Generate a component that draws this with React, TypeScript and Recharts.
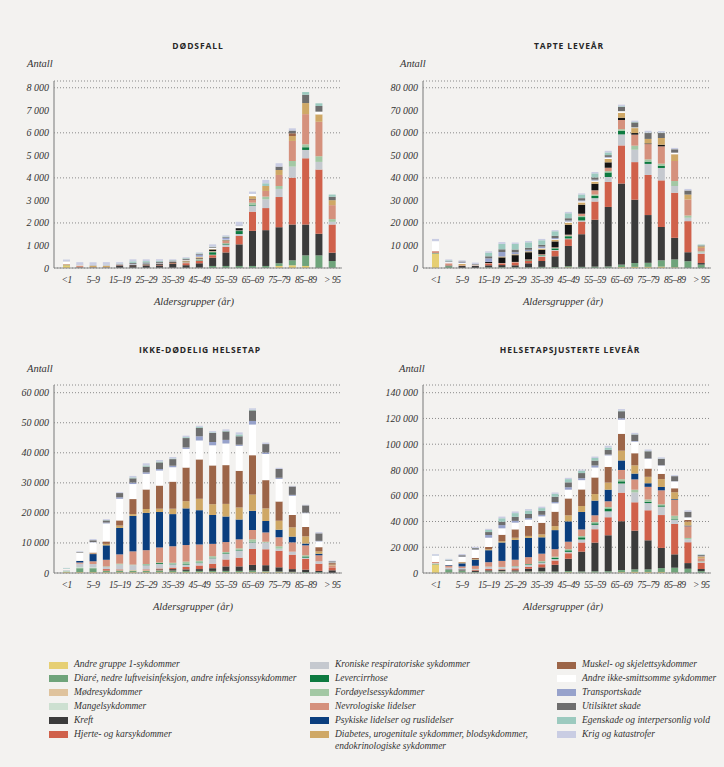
import { Bar, BarChart, CartesianGrid, XAxis, YAxis } from "recharts";

// Age groups on the x axis (every other one gets a label).
const AGE_GROUPS = [
  "<1", "1–4", "5–9", "10–14", "15–19", "20–24", "25–29", "30–34", "35–39", "40–44",
  "45–49", "50–54", "55–59", "60–64", "65–69", "70–74", "75–79", "80–84", "85–89", "90–94", "> 95",
];

const Z = [0, 0, 0, 0, 0, 0, 0, 0, 0, 0, 0, 0, 0, 0, 0, 0, 0, 0, 0, 0, 0];

// ---- Dødsfall (antall) ----
const dG1 = [120, 0, 0, 0, 0, 0, 0, 0, 0, 0, 0, 0, 0, 0, 0, 0, 90, 120, 90, 0, 0];
const dDiare = [10, 10, 5, 5, 5, 5, 5, 5, 5, 5, 10, 90, 90, 90, 90, 90, 120, 220, 470, 560, 310];
const dKreft = [5, 20, 20, 20, 100, 80, 90, 110, 180, 120, 200, 370, 600, 960, 1560, 1590, 1600, 1590, 1370, 960, 370];
const dHjerte = [10, 10, 0, 0, 10, 10, 15, 20, 30, 90, 110, 110, 250, 370, 850, 980, 1340, 2080, 2940, 2850, 1250];
const dKronresp = [5, 5, 0, 0, 0, 0, 0, 0, 0, 10, 20, 20, 100, 90, 270, 390, 360, 490, 370, 340, 120];
const dLever = [0, 0, 0, 0, 0, 0, 0, 5, 5, 10, 20, 110, 40, 130, 30, 0, 0, 0, 120, 0, 0];
const dFordoy = [0, 0, 0, 0, 0, 0, 0, 0, 0, 10, 30, 30, 20, 30, 100, 120, 130, 250, 130, 250, 120];
const dNevro = [10, 50, 10, 10, 10, 10, 10, 10, 10, 20, 30, 20, 100, 0, 150, 250, 490, 890, 1340, 1530, 620];
const dPsyk = [0, 0, 0, 0, 10, 30, 40, 40, 30, 20, 20, 70, 20, 100, 20, 0, 0, 0, 0, 0, 0];
const dDiab = [20, 10, 60, 60, 5, 10, 10, 10, 10, 40, 40, 20, 20, 0, 120, 220, 220, 220, 490, 330, 220];
const dMuskel = [0, 0, 0, 0, 0, 0, 0, 0, 0, 0, 0, 0, 0, 0, 0, 0, 0, 120, 0, 0, 0];
const dAndre = [110, 20, 20, 20, 10, 10, 10, 10, 10, 20, 20, 60, 20, 90, 100, 0, 0, 0, 0, 120, 0];
const dTransport = [0, 5, 5, 10, 15, 30, 25, 20, 15, 20, 90, 0, 80, 0, 0, 0, 0, 0, 0, 0, 0];
const dUtils = [5, 10, 15, 15, 15, 40, 40, 50, 30, 40, 30, 30, 30, 20, 0, 0, 150, 120, 370, 250, 150];
const dEgensk = [0, 0, 0, 10, 20, 70, 60, 40, 20, 30, 30, 20, 30, 0, 0, 120, 0, 0, 120, 120, 100];
const dKrig = [80, 120, 120, 110, 60, 90, 80, 70, 40, 40, 40, 100, 50, 170, 100, 150, 150, 100, 0, 0, 0];

// ---- Tapte leveår ----
const yG1 = [6300, 0, 0, 0, 0, 0, 0, 0, 0, 0, 300, 0, 0, 0, 400, 500, 500, 600, 300, 0, 0];
const yDiare = [300, 800, 0, 0, 300, 400, 300, 300, 500, 400, 500, 500, 600, 700, 1100, 1700, 1800, 2800, 3500, 3000, 1500];
const yKreft = [0, 300, 900, 1000, 900, 900, 900, 1800, 2600, 4800, 9000, 14500, 20800, 26400, 36000, 28100, 21200, 14800, 9600, 4000, 700];
const yHjerte = [0, 0, 0, 0, 700, 600, 1200, 1200, 1900, 2500, 3000, 5600, 8100, 11100, 16900, 16700, 17800, 20700, 20000, 13800, 4100];
const yKronresp = [0, 0, 0, 0, 0, 0, 0, 0, 300, 300, 300, 500, 1500, 2200, 4900, 5500, 4900, 5500, 3000, 1500, 600];
const yLever = [0, 0, 0, 0, 0, 0, 0, 200, 300, 700, 1000, 1500, 1000, 2000, 1500, 0, 1000, 1000, 0, 0, 0];
const yFordoy = [0, 0, 0, 0, 0, 0, 0, 0, 200, 200, 300, 500, 600, 600, 800, 1800, 1000, 900, 2200, 1000, 500];
const yNevro = [900, 1000, 300, 200, 300, 300, 300, 300, 300, 300, 400, 1000, 1900, 1500, 4100, 4900, 6800, 7700, 8900, 7100, 1500];
const yPsyk = [0, 0, 0, 0, 500, 2500, 3000, 3200, 2000, 2600, 4400, 4000, 2900, 2400, 1000, 700, 300, 700, 0, 0, 0];
const yDiab = [0, 0, 600, 0, 0, 400, 400, 400, 500, 700, 900, 1000, 900, 1500, 2200, 2200, 2000, 3000, 3000, 2200, 700];
const yAndre = [4400, 500, 400, 300, 0, 0, 0, 0, 200, 300, 500, 500, 500, 600, 700, 300, 0, 0, 700, 0, 0];
const yTransport = [0, 200, 300, 0, 1600, 2000, 900, 700, 700, 500, 500, 400, 400, 300, 0, 0, 0, 0, 0, 0, 0];
const yUtils = [0, 200, 400, 300, 900, 1200, 1200, 900, 800, 1000, 1000, 1000, 1000, 800, 1900, 2200, 2600, 2200, 1500, 1800, 400];
const yEgensk = [0, 400, 0, 0, 1600, 2400, 2500, 2400, 2000, 2000, 2200, 1600, 1800, 1200, 300, 200, 200, 200, 0, 0, 400];
const yKrig = [1000, 400, 500, 600, 600, 800, 600, 600, 600, 500, 600, 500, 600, 700, 700, 600, 800, 700, 600, 700, 0];

// ---- Ikke-dødelig helsetap ----
const iG1 = [300, 300, 300, 300, 300, 300, 300, 300, 300, 300, 300, 300, 300, 300, 300, 400, 300, 200, 0, 0, 0];
const iDiare = [200, 1300, 1300, 500, 500, 500, 400, 400, 400, 400, 400, 400, 400, 400, 500, 200, 200, 200, 300, 300, 0];
const iModre = [0, 0, 0, 0, 100, 200, 200, 200, 100, 0, 0, 0, 0, 0, 0, 0, 0, 0, 0, 0, 0];
const iMangel = [300, 400, 300, 0, 0, 0, 0, 0, 0, 0, 0, 0, 0, 0, 0, 0, 0, 0, 0, 0, 0];
const iKreft = [0, 0, 0, 0, 0, 0, 0, 300, 500, 500, 600, 900, 1500, 1500, 1900, 2000, 1400, 900, 800, 400, 900];
const iHjerte = [0, 0, 0, 500, 300, 0, 300, 300, 500, 800, 1200, 1500, 2300, 2900, 5300, 5300, 5500, 4800, 3600, 2400, 800];
const iKronresp = [200, 1100, 1100, 700, 1600, 1600, 1400, 1500, 1100, 800, 800, 1800, 1900, 2400, 2200, 2200, 700, 1000, 400, 800, 0];
const iLever = [0, 0, 0, 0, 0, 0, 200, 300, 200, 200, 200, 200, 200, 200, 200, 0, 0, 0, 400, 0, 0];
const iFordoy = [0, 0, 0, 200, 300, 200, 200, 200, 300, 800, 600, 500, 400, 500, 800, 300, 800, 0, 400, 0, 0];
const iNevro = [100, 400, 900, 2200, 3100, 4400, 4600, 5000, 5500, 5500, 5400, 4100, 3300, 3000, 3100, 3100, 3000, 3100, 3300, 2000, 800];
const iPsyk = [0, 500, 2400, 4800, 8800, 11800, 12400, 11800, 10700, 12200, 11400, 9600, 8500, 6600, 6400, 3800, 2500, 1900, 600, 500, 0];
const iDiab = [0, 100, 200, 500, 800, 600, 1300, 1100, 1800, 2400, 3800, 3600, 4200, 4000, 5400, 4200, 3000, 3100, 2400, 800, 300];
const iMuskel = [0, 0, 300, 800, 1700, 5000, 6500, 7700, 9000, 11200, 13100, 12900, 12900, 12200, 13100, 9400, 6400, 4100, 3100, 1400, 500];
const iAndre = [300, 2700, 3400, 6000, 7200, 5000, 5200, 5000, 4800, 6200, 6300, 6700, 7200, 8300, 10200, 8700, 7500, 6400, 4600, 1900, 200];
const iTransport = [0, 0, 100, 300, 500, 500, 500, 500, 500, 500, 1400, 1100, 1200, 400, 1200, 500, 400, 300, 200, 200, 0];
const iUtils = [0, 200, 600, 700, 1400, 1400, 1900, 2200, 2200, 3100, 2800, 3000, 2800, 2800, 3500, 2800, 2900, 2800, 2400, 2500, 400];
const iEgensk = [200, 0, 0, 100, 0, 300, 400, 300, 200, 300, 300, 200, 200, 600, 200, 0, 0, 0, 0, 0, 0];
const iKrig = [100, 200, 400, 300, 300, 500, 700, 500, 500, 500, 400, 400, 500, 700, 500, 500, 400, 200, 200, 400, 200];

// ---- Helsetapsjusterte leveår ----
const hG1 = [6600, 300, 300, 300, 300, 300, 300, 300, 300, 300, 600, 300, 300, 300, 700, 900, 800, 800, 300, 0, 0];
const hDiare = [500, 2100, 1300, 500, 800, 900, 700, 700, 900, 800, 900, 900, 1000, 1100, 1600, 1900, 2000, 3000, 3800, 3300, 1500];
const hModre = [0, 0, 0, 0, 100, 200, 200, 200, 100, 0, 0, 0, 0, 0, 0, 0, 0, 0, 0, 0, 0];
const hMangel = [300, 400, 300, 0, 0, 0, 0, 0, 0, 0, 0, 0, 0, 0, 0, 0, 0, 0, 0, 0, 0];
const hKreft = [0, 300, 900, 1000, 900, 900, 900, 2100, 3100, 5300, 9600, 15400, 22300, 27900, 37900, 30100, 22600, 15700, 10400, 4400, 1600];
const hHjerte = [0, 0, 0, 500, 1000, 600, 1500, 1500, 2400, 3300, 4200, 7100, 10400, 14000, 22200, 22000, 23300, 25500, 23600, 16200, 4900];
const hKronresp = [200, 1100, 1100, 700, 1600, 1600, 1400, 1500, 1400, 1100, 1100, 2300, 3400, 4600, 7100, 7700, 5600, 6500, 3400, 2300, 600];
const hLever = [0, 0, 0, 0, 0, 0, 200, 500, 500, 900, 1200, 1700, 1200, 2200, 1700, 0, 1000, 1000, 400, 0, 0];
const hFordoy = [0, 0, 0, 200, 300, 200, 200, 200, 500, 1000, 900, 1000, 1000, 1100, 1600, 2100, 1800, 900, 2600, 1000, 500];
const hNevro = [1000, 1400, 1200, 2400, 3400, 4700, 4900, 5300, 5800, 5800, 5800, 5100, 5200, 4500, 7200, 8000, 9800, 10800, 12200, 9100, 2300];
const hPsyk = [0, 500, 2400, 4800, 9300, 14300, 15400, 15000, 12700, 14800, 15800, 13600, 11400, 9000, 7400, 4500, 2800, 2600, 600, 500, 0];
const hDiab = [0, 100, 800, 500, 800, 1000, 1700, 1500, 2300, 3100, 4700, 4600, 5100, 5500, 7600, 6400, 5000, 6100, 5400, 3000, 1000];
const hMuskel = [0, 0, 300, 800, 1700, 5000, 6500, 7700, 9000, 11200, 13100, 12900, 12900, 12200, 13100, 9400, 6400, 4100, 3100, 1400, 500];
const hAndre = [4700, 3200, 3800, 6300, 7200, 5000, 5200, 5000, 5000, 6500, 6800, 7200, 7700, 8900, 10900, 9000, 7500, 6400, 5300, 1900, 200];
const hTransport = [0, 200, 400, 300, 2100, 2500, 1400, 1200, 1200, 1000, 1900, 1500, 1600, 700, 1200, 500, 400, 300, 200, 200, 0];
const hUtils = [0, 400, 1000, 1000, 2300, 2600, 3100, 3100, 3000, 4100, 3800, 4000, 3800, 3600, 5400, 5000, 5500, 5000, 3900, 4300, 800];
const hEgensk = [200, 400, 0, 100, 1600, 2700, 2900, 2700, 2200, 2300, 2500, 1800, 2000, 1800, 500, 200, 200, 200, 0, 0, 400];
const hKrig = [1100, 600, 900, 900, 900, 1300, 1300, 1100, 1100, 1000, 1000, 900, 1100, 1400, 1200, 1100, 1200, 900, 800, 1100, 200];

// Stack order bottom -> top, same as the legend read column by column.
const SERIES = [
  { key: "g1", label: "Andre gruppe 1-sykdommer", color: "#e6cf73" },
  { key: "diare", label: "Diaré, nedre luftveisinfeksjon, andre infeksjonssykdommer", color: "#6fa47b" },
  { key: "modre", label: "Mødresykdommer", color: "#dfc39d" },
  { key: "mangel", label: "Mangelsykdommer", color: "#cde0d1" },
  { key: "kreft", label: "Kreft", color: "#3b3b3b" },
  { key: "hjerte", label: "Hjerte- og karsykdommer", color: "#d0614b" },
  { key: "kronresp", label: "Kroniske respiratoriske sykdommer", color: "#c5c9cf" },
  { key: "lever", label: "Levercirrhose", color: "#0d7a40" },
  { key: "fordoy", label: "Fordøyelsessykdommer", color: "#a3c8a4" },
  { key: "nevro", label: "Nevrologiske lidelser", color: "#d5917d" },
  { key: "psyk", label: "Psykiske lidelser og ruslidelser", color: "#0a3e7e" },
  { key: "diab", label: "Diabetes, urogenitale sykdommer, blodsykdommer, endokrinologiske sykdommer", color: "#cfa866" },
  { key: "muskel", label: "Muskel- og skjelettsykdommer", color: "#9c6548" },
  { key: "andre", label: "Andre ikke-smittsomme sykdommer", color: "#ffffff" },
  { key: "transport", label: "Transportskade", color: "#97a2cb" },
  { key: "utils", label: "Utilsiktet skade", color: "#6e6e6e" },
  { key: "egensk", label: "Egenskade og interpersonlig vold", color: "#9ccabf" },
  { key: "krig", label: "Krig og katastrofer", color: "#c9cde3" },
];

type Cols = Record<string, number[]>;

function buildRows(cols: Cols) {
  return AGE_GROUPS.map((age, i) => {
    const row: Record<string, string | number> = { age };
    SERIES.forEach((s) => {
      row[s.key] = (cols[s.key] ?? Z)[i];
    });
    return row;
  });
}

const deathRows = buildRows({
  g1: dG1, diare: dDiare, kreft: dKreft, hjerte: dHjerte, kronresp: dKronresp, lever: dLever,
  fordoy: dFordoy, nevro: dNevro, psyk: dPsyk, diab: dDiab, muskel: dMuskel, andre: dAndre,
  transport: dTransport, utils: dUtils, egensk: dEgensk, krig: dKrig,
});
const yllRows = buildRows({
  g1: yG1, diare: yDiare, kreft: yKreft, hjerte: yHjerte, kronresp: yKronresp, lever: yLever,
  fordoy: yFordoy, nevro: yNevro, psyk: yPsyk, diab: yDiab, andre: yAndre,
  transport: yTransport, utils: yUtils, egensk: yEgensk, krig: yKrig,
});
const yldRows = buildRows({
  g1: iG1, diare: iDiare, modre: iModre, mangel: iMangel, kreft: iKreft, hjerte: iHjerte,
  kronresp: iKronresp, lever: iLever, fordoy: iFordoy, nevro: iNevro, psyk: iPsyk, diab: iDiab,
  muskel: iMuskel, andre: iAndre, transport: iTransport, utils: iUtils, egensk: iEgensk, krig: iKrig,
});
const dalyRows = buildRows({
  g1: hG1, diare: hDiare, modre: hModre, mangel: hMangel, kreft: hKreft, hjerte: hHjerte,
  kronresp: hKronresp, lever: hLever, fordoy: hFordoy, nevro: hNevro, psyk: hPsyk, diab: hDiab,
  muskel: hMuskel, andre: hAndre, transport: hTransport, utils: hUtils, egensk: hEgensk, krig: hKrig,
});

const DEATH_TICKS = [0, 1000, 2000, 3000, 4000, 5000, 6000, 7000, 8000];
const YLL_TICKS = [0, 10000, 20000, 30000, 40000, 50000, 60000, 70000, 80000];
const YLD_TICKS = [0, 10000, 20000, 30000, 40000, 50000, 60000];
const DALY_TICKS = [0, 20000, 40000, 60000, 80000, 100000, 120000, 140000];

const SERIF = "'Liberation Serif', 'DejaVu Serif', serif";
const SANS = "'Open Sans', 'Noto Sans', sans-serif";
const AXIS = "#8c8c8c";

// non-breaking space as thousands separator, so the tick text never wraps
const fmt = (v: number) => String(v).replace(/\B(?=(\d{3})+(?!\d))/g, "\u00A0");

interface PanelProps {
  left: number;
  top: number;
  height: number;
  rows: Record<string, string | number>[];
  yMax: number;
  ticks: number[];
  psykColor?: string;
}

function Panel({ left, top, height, rows, yMax, ticks, psykColor }: PanelProps) {
  const yTick = { fontSize: 10, fill: "#333", fontStyle: "italic", fontFamily: SERIF };
  const xTick = { fontSize: 9.5, fill: "#333", fontStyle: "italic", fontFamily: SERIF, letterSpacing: -0.4 };
  return (
    <div style={{ position: "absolute", left, top }}>
      <BarChart
        width={350}
        height={height}
        data={rows}
        margin={{ top: 11, right: 8, bottom: 2, left: 4 }}
        barSize={7}
      >
        <CartesianGrid vertical={false} stroke="#8a8a8a" strokeDasharray="1 2" />
        <XAxis
          dataKey="age"
          interval={1}
          height={30}
          tickLine={false}
          tickSize={3}
          tickMargin={5}
          padding={{ left: 6, right: 3 }}
          axisLine={{ stroke: AXIS, strokeWidth: 1.2 }}
          tick={xTick}
        />
        <YAxis
          type="number"
          domain={[0, yMax]}
          ticks={ticks}
          width={50}
          tickLine={false}
          tickSize={3}
          tickMargin={2}
          axisLine={{ stroke: AXIS, strokeWidth: 1.2 }}
          tick={yTick}
          tickFormatter={fmt}
        />
        {SERIES.map((s) => (
          <Bar
            key={s.key}
            dataKey={s.key}
            stackId="a"
            fill={s.key === "psyk" && psykColor ? psykColor : s.color}
            isAnimationActive={false}
          />
        ))}
      </BarChart>
    </div>
  );
}

function Label({ x, y, text, kind }: { x: number; y: number; text: string; kind: "title" | "axis" | "unit" }) {
  const base: React.CSSProperties = { position: "absolute", top: y, whiteSpace: "nowrap", lineHeight: 1 };
  if (kind === "title") {
    return (
      <div style={{ ...base, left: x, transform: "translate(-50%, -50%)", fontFamily: SANS, fontWeight: 700, fontSize: 8.5, letterSpacing: 0.9, color: "#262626" }}>
        {text}
      </div>
    );
  }
  if (kind === "unit") {
    return (
      <div style={{ ...base, left: x, transform: "translateY(-50%)", fontFamily: SERIF, fontStyle: "italic", fontSize: 10.5, color: "#333" }}>
        {text}
      </div>
    );
  }
  return (
    <div style={{ ...base, left: x, transform: "translate(-50%, -50%)", fontFamily: SERIF, fontStyle: "italic", fontSize: 10.5, color: "#333" }}>
      {text}
    </div>
  );
}

const LEGEND_COLS = [
  { swatchX: 49, textX: 74, keys: ["g1", "diare", "modre", "mangel", "kreft", "hjerte"] },
  { swatchX: 310, textX: 335, keys: ["kronresp", "lever", "fordoy", "nevro", "psyk", "diab"] },
  { swatchX: 557, textX: 582, keys: ["muskel", "andre", "transport", "utils", "egensk", "krig"] },
];

function Legend() {
  return (
    <>
      {LEGEND_COLS.map((col) =>
        col.keys.map((k, r) => {
          const s = SERIES.find((x) => x.key === k)!;
          const y = 665 + r * 13.9;
          const lines = k === "diab"
            ? ["Diabetes, urogenitale sykdommer, blodsykdommer,", "endokrinologiske sykdommer"]
            : [s.label];
          return (
            <div key={k}>
              <div style={{ position: "absolute", left: col.swatchX, top: y - 3.5, width: 19, height: 7, background: s.color }} />
              {lines.map((t, li) => (
                <div
                  key={li}
                  style={{
                    position: "absolute", left: col.textX, top: y + li * 12, transform: "translateY(-50%)",
                    fontFamily: SERIF, fontStyle: "italic", fontSize: 9.5,
                    color: "#333", whiteSpace: "nowrap", lineHeight: 1,
                  }}
                >
                  {t}
                </div>
              ))}
            </div>
          );
        }),
      )}
    </>
  );
}

export default function App() {
  return (
    <div style={{ position: "absolute", left: 0, top: 0, width: 724, height: 767, background: "#f3f2f0", overflow: "hidden" }}>
      <Label x={198} y={46} text="DØDSFALL" kind="title" />
      <Label x={569} y={46} text="TAPTE LEVEÅR" kind="title" />
      <Label x={200} y={350} text="IKKE-DØDELIG HELSETAP" kind="title" />
      <Label x={570} y={350} text="HELSETAPSJUSTERTE LEVEÅR" kind="title" />

      <Label x={27} y={64} text="Antall" kind="unit" />
      <Label x={400} y={64} text="Antall" kind="unit" />
      <Label x={27} y={369} text="Antall" kind="unit" />
      <Label x={399} y={369} text="Antall" kind="unit" />

      <Panel left={0} top={70} height={230} rows={deathRows} yMax={8300} ticks={DEATH_TICKS} psykColor="#141414" />
      <Panel left={369} top={70} height={230} rows={yllRows} yMax={83000} ticks={YLL_TICKS} psykColor="#141414" />
      <Panel left={0} top={374} height={231} rows={yldRows} yMax={62560} ticks={YLD_TICKS} />
      <Panel left={369} top={374} height={231} rows={dalyRows} yMax={145980} ticks={DALY_TICKS} />

      <Label x={194} y={302} text="Aldersgrupper (år)" kind="axis" />
      <Label x={563} y={302} text="Aldersgrupper (år)" kind="axis" />
      <Label x={193} y={607} text="Aldersgrupper (år)" kind="axis" />
      <Label x={563} y={607} text="Aldersgrupper (år)" kind="axis" />

      <Legend />
    </div>
  );
}
